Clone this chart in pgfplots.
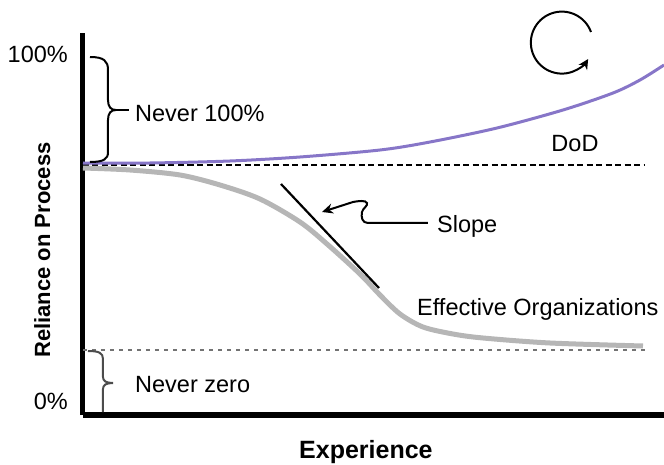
\documentclass[border=0pt]{standalone}
\usepackage{fontspec}
\setmainfont{Liberation Sans}
\usepackage{pgfplots}
\pgfplotsset{compat=1.18}
\usetikzlibrary{arrows.meta}
\definecolor{dodpurple}{RGB}{135,118,200}
\definecolor{effgray}{RGB}{182,182,182}
\begin{document}
\begin{tikzpicture}[font=\fontsize{23.5bp}{28bp}\selectfont]
\begin{axis}[
  x=1bp, y=1bp, xmin=0, xmax=581, ymin=0, ymax=382,
  axis x line=bottom, axis y line=left,
  axis line style={-, line width=5bp},
  clip=false,
  xtick=\empty,
  ytick={13.5,361}, yticklabels={0\%,100\%},
  major tick length=0pt,
  yticklabel style={inner sep=0pt, anchor=east, xshift=-15bp},
  xlabel={\fontsize{25bp}{28bp}\selectfont\bfseries Experience},
  ylabel={\fontsize{22bp}{26bp}\selectfont\bfseries Reliance on Process},
  xlabel style={at={(axis description cs:0.487,-0.1126)}, anchor=base, inner sep=0pt},
  ylabel style={at={(axis description cs:-0.0568,0.432)}, anchor=base, inner sep=0pt},
]
% reference dashed lines
\addplot[black, line width=1.8bp, dash pattern=on 6bp off 3.5bp] coordinates {(0,250) (562,250)};
\addplot[black!55, line width=1.5bp, dash pattern=on 4bp off 5bp] coordinates {(0,65) (562,65)};
% DoD curve
\addplot[dodpurple, line width=3bp, smooth] coordinates {
  (0,252) (67,252) (147,254) (217,258) (297,265) (347,273) (414,287) (480,305) (530,322) (557,335) (581,350)};
% Effective organizations curve
\addplot[effgray, line width=5bp, smooth] coordinates {
  (0,247) (47,245) (97,240) (137,230) (177,216) (217,193) (244,171) (277,141) (297,120) (317,101) (340,88) (370,81) (400,77) (467,72) (560,69)};
% tangent
\addplot[black, line width=2.2bp] coordinates {(198,231) (296,127)};
% braces
\draw[line width=2bp] (axis cs:7,358) .. controls (axis cs:21,358) and (axis cs:25,354) .. (axis cs:25,345)
  -- (axis cs:25,315) .. controls (axis cs:25,308) and (axis cs:28,305) .. (axis cs:33,305)
  .. controls (axis cs:28,305) and (axis cs:25,302) .. (axis cs:25,295)
  -- (axis cs:25,263) .. controls (axis cs:25,256) and (axis cs:21,253) .. (axis cs:7,253);
\draw[line width=2bp] (axis cs:33,305) -- (axis cs:46,305);
\draw[line width=2bp, black!70] (axis cs:5,64) .. controls (axis cs:16,64) and (axis cs:20,62) .. (axis cs:20,56)
  -- (axis cs:20,38) .. controls (axis cs:20,34) and (axis cs:23,32) .. (axis cs:30,32)
  .. controls (axis cs:23,32) and (axis cs:20,30) .. (axis cs:20,26) -- (axis cs:20,3);
% slope arrow
\draw[line width=2bp, -{Stealth[length=11bp,width=10bp]}] (axis cs:345,192) -- (axis cs:285,192)
  .. controls (axis cs:279,192) and (axis cs:278,198) .. (axis cs:279,203)
  .. controls (axis cs:280,207) and (axis cs:285,209) .. (axis cs:284,212)
  .. controls (axis cs:283,215) and (axis cs:275,214) .. (axis cs:270,213) -- (axis cs:239,203);
% circular arrow
\draw[line width=2bp, -{Stealth[length=10bp,width=10bp]}] (axis cs:508,383) arc[start angle=20, end angle=328, radius=31bp];
% labels
\node[anchor=base west, inner sep=0pt] at (axis cs:52,294) {Never 100\%};
\node[anchor=base west, inner sep=0pt] at (axis cs:52,23) {Never zero};
\node[anchor=base, inner sep=0pt] at (axis cs:492,264) {DoD};
\node[anchor=base west, inner sep=0pt] at (axis cs:354,183) {Slope};
\node[anchor=base west, inner sep=0pt] at (axis cs:334,100) {Effective Organizations};
\end{axis}
\pgfresetboundingbox
\path (-83bp,-50bp) rectangle (581bp,415bp);
\end{tikzpicture}
\end{document}
